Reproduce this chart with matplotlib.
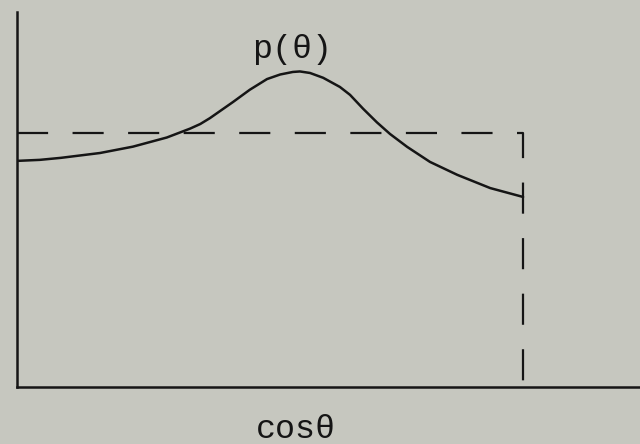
import matplotlib
matplotlib.use('Agg')
import matplotlib.pyplot as plt

# p(theta) curve, x = cos(theta) scaled to [0, 1], y scaled so uniform level = 1
cos_vals = [0.000, 0.045, 0.087, 0.164, 0.229, 0.296, 0.342, 0.362, 0.381, 0.427,
            0.460, 0.494, 0.520, 0.545, 0.559, 0.579, 0.605, 0.638, 0.658, 0.684,
            0.711, 0.737, 0.771, 0.816, 0.870, 0.935, 1.000]
p_vals = [0.890, 0.894, 0.902, 0.921, 0.946, 0.982, 1.017, 1.035, 1.058, 1.122,
          1.170, 1.212, 1.230, 1.240, 1.242, 1.236, 1.217, 1.181, 1.150, 1.095,
          1.042, 0.996, 0.945, 0.886, 0.835, 0.783, 0.748]

# uniform (dashed) distribution outline
box_x = [0.0, 1.0, 1.0]
box_y = [1.0, 1.0, 0.0]

bg = '#c6c7bf'
ink = '#151515'

fig = plt.figure(figsize=(6.4, 4.44), dpi=100, facecolor=bg)
ax = fig.add_axes([17 / 640, 57 / 444, 623 / 640, 375 / 444])
ax.set_facecolor(bg)

ax.plot(cos_vals, p_vals, color=ink, lw=1.8, solid_capstyle='round',
        solid_joinstyle='round')
ax.plot(box_x, box_y, color=ink, lw=1.6, dashes=(14, 11))

ax.set_xlim(0, 1.231)
ax.set_ylim(0, 1.476)
for s in ('top', 'right'):
    ax.spines[s].set_visible(False)
for s in ('left', 'bottom'):
    ax.spines[s].set_linewidth(1.8)
    ax.spines[s].set_color(ink)
ax.set_xticks([])
ax.set_yticks([])

mono = ['Liberation Mono', 'DejaVu Sans Mono']
ax.text(0.543, 1.327, 'p(θ)', ha='center', va='center', fontsize=24,
        family=mono, color=ink)
ax.text(0.552, -0.169, 'cosθ', ha='center', va='center', fontsize=24,
        family=mono, color=ink, clip_on=False)

fig.savefig('out.png', dpi=100, facecolor=bg)
